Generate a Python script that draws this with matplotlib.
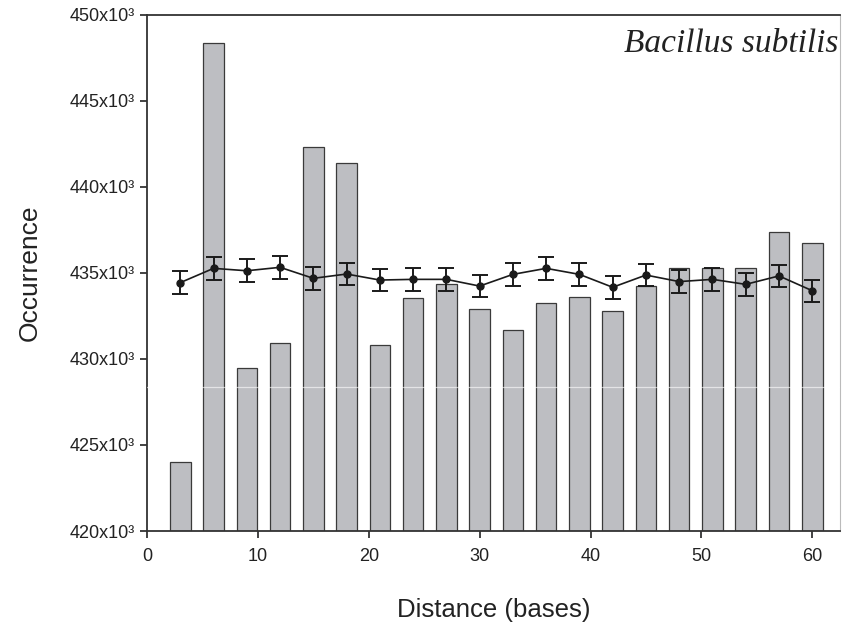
import matplotlib.pyplot as plt
from matplotlib.ticker import FuncFormatter

# distances (bases)
distance = [3, 6, 9, 12, 15, 18, 21, 24, 27, 30, 33, 36, 39, 42, 45, 48, 51, 54, 57, 60]

# observed occurrence (x10^3)
observed = [424.0, 448.4, 429.5, 430.95, 442.3, 441.4, 430.8, 433.56, 434.34, 432.89,
            431.69, 433.24, 433.59, 432.8, 434.26, 435.29, 435.29, 435.29, 437.4, 436.72]

# expected occurrence (x10^3) and error
expected = [434.44, 435.27, 435.13, 435.33, 434.69, 434.94, 434.59, 434.63, 434.63, 434.24,
            434.92, 435.27, 434.92, 434.17, 434.88, 434.5, 434.63, 434.34, 434.83, 433.97]
err = [0.65, 0.68, 0.67, 0.68, 0.66, 0.66, 0.66, 0.68, 0.66, 0.66,
       0.66, 0.66, 0.66, 0.66, 0.66, 0.65, 0.65, 0.65, 0.66, 0.64]

plt.rcParams['font.family'] = ['Liberation Sans', 'DejaVu Sans']

fig = plt.figure(figsize=(8.43, 6.22), dpi=100)
ax = fig.add_axes([0.1744, 0.1463, 0.8220, 0.8296])

ax.bar(distance, [o * 1000 - 420000 for o in observed], bottom=420000, width=1.85,
       color='#bdbec2', edgecolor='#3a3a3a', linewidth=0.9, zorder=2)

# faint scan line across the bars
ax.axhline(428400, color='white', lw=0.9, alpha=0.6, zorder=3)

ax.errorbar(distance, [e * 1000 for e in expected], yerr=[v * 1000 for v in err],
            fmt='-o', color='#1a1a1a', ms=5, lw=1.2, elinewidth=1.4,
            capsize=5.5, capthick=1.4, zorder=4)

ax.set_xlim(0, 62.5)
ax.set_ylim(420000, 450000)
ax.set_xticks([0, 10, 20, 30, 40, 50, 60])
ax.set_yticks(range(420000, 450001, 5000))
ax.yaxis.set_major_formatter(FuncFormatter(lambda v, p: f"{int(v / 1000)}x10\u00b3"))
ax.tick_params(axis='both', direction='out', length=5, width=1.2, labelsize=13,
               colors='#222222', pad=7)
ax.tick_params(axis='y', pad=4)

for s in ax.spines.values():
    s.set_linewidth(1.3)
    s.set_color('#333333')
ax.spines['right'].set_color('#bbbbbb')
ax.spines['right'].set_linewidth(0.8)

ax.set_xlabel("Distance (bases)", fontsize=18.5, labelpad=24, color='#222222')
ax.set_ylabel("Occurrence", fontsize=19, labelpad=20, color='#222222')

ax.text(0.998, 0.945, "Bacillus subtilis", transform=ax.transAxes, ha='right', va='center',
        fontsize=24, style='italic', family=['Liberation Serif', 'DejaVu Serif'], color='#222222')

fig.savefig("out.png", dpi=100)
